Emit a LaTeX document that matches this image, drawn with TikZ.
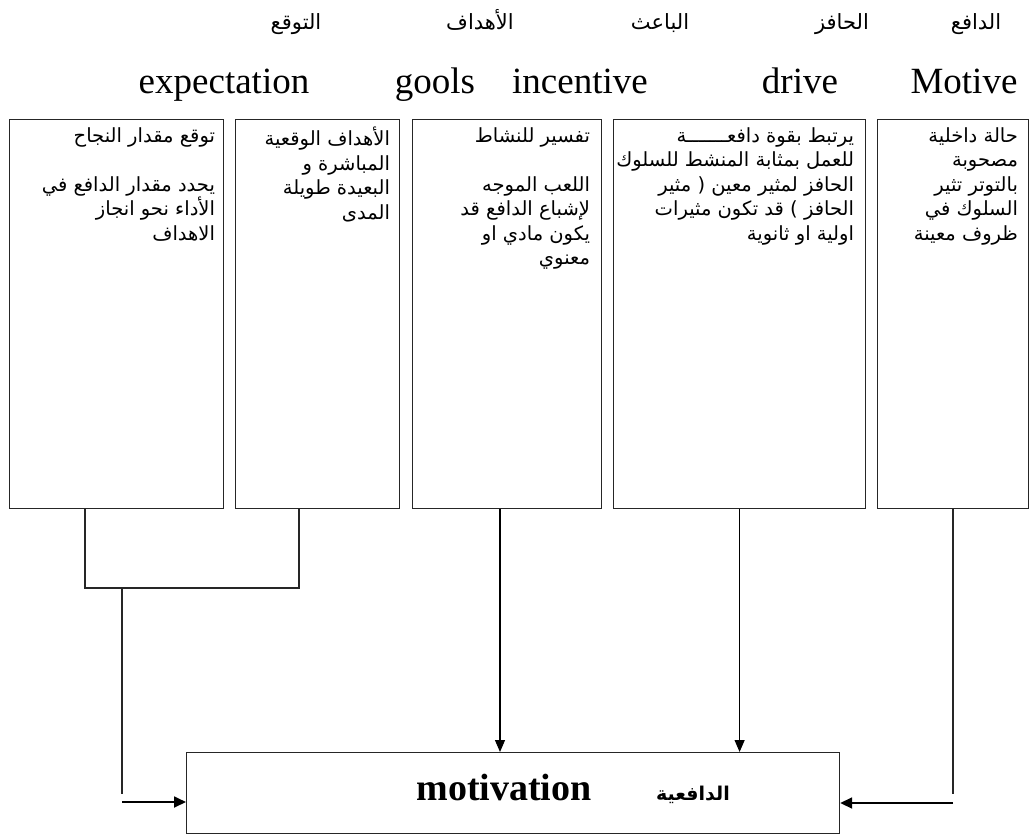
\documentclass[tikz,border=0pt]{standalone}
\usepackage{fontspec}
\setmainfont{Liberation Serif}
\newfontfamily\arabicfont[Script=Arabic]{DejaVu Sans}
\TeXXeTstate=1
\usetikzlibrary{arrows.meta}
\newcommand{\arl}[1]{\beginR #1\endR}
\begin{document}
\begin{tikzpicture}[x=1pt,y=-1pt,
  box/.style={draw, line width=1.2pt, draw=black!85, anchor=north west, inner sep=0pt},
  boxtxt/.style={anchor=north east, inner sep=0pt, align=right, font=\arabicfont\fontsize{19.5}{24.5}\selectfont},
  ehead/.style={anchor=base, font=\fontsize{37}{40}\selectfont},
  ahead/.style={anchor=base, font=\arabicfont\fontsize{21}{24}\selectfont},
  conn/.style={line width=1.2pt, draw=black!85},
  arr/.style={line width=1.2pt, -{Triangle[length=12pt,width=10pt]}},
  harr/.style={line width=1.8pt, -{Triangle[length=12pt,width=11pt]}}
]
\useasboundingbox (0,0) rectangle (1031,833);

% Arabic header
\node[ahead] (h1) at (296,29) {\arl{التوقع}};
\node[ahead] (h2) at (480,29) {\arl{الأهداف}};
\node[ahead] (h3) at (660,29) {\arl{الباعث}};
\node[ahead] (h4) at (842,29) {\arl{الحافز}};
\node[ahead] (h5) at (976,29) {\arl{الدافع}};

% English header
\node[ehead] (e1) at (224,93) {expectation};
\node[ehead] (e2) at (435,93) {gools};
\node[ehead] (e3) at (580,93) {incentive};
\node[ehead] (e4) at (800,93) {drive};
\node[ehead] (e5) at (964,93) {Motive};

% boxes
\node[box, minimum width=214pt, minimum height=389pt] (b1) at (9,119) {};
\node[box, minimum width=164pt, minimum height=389pt] (b2) at (235,119) {};
\node[box, minimum width=189pt, minimum height=389pt] (b3) at (412,119) {};
\node[box, minimum width=252pt, minimum height=389pt] (b4) at (613,119) {};
\node[box, minimum width=151pt, minimum height=389pt] (b5) at (877,119) {};

\node[boxtxt] (t1) at ([xshift=-9pt,yshift=-8pt]b1.north east) {\arl{توقع مقدار النجاح}\\ \mbox{}\\ \arl{يحدد مقدار الدافع في}\\ \arl{الأداء نحو انجاز}\\ \arl{الاهداف}};
\node[boxtxt] (t2) at ([xshift=-10pt,yshift=-8pt]b2.north east) {\arl{الأهداف الوقعية}\\ \arl{المباشرة و}\\ \arl{البعيدة طويلة}\\ \arl{المدى}};
\node[boxtxt] (t3) at ([xshift=-12pt,yshift=-8pt]b3.north east) {\arl{تفسير للنشاط}\\ \mbox{}\\ \arl{اللعب الموجه}\\ \arl{لإشباع الدافع قد}\\ \arl{يكون مادي او}\\ \arl{معنوي}};
\node[boxtxt] (t4) at ([xshift=-12pt,yshift=-8pt]b4.north east) {\arl{يرتبط بقوة دافعـــــــة}\\ \arl{للعمل بمثابة المنشط للسلوك}\\ \arl{الحافز لمثير معين ( مثير}\\ \arl{الحافز ) قد تكون مثيرات}\\ \arl{اولية او ثانوية}};
\node[boxtxt] (t5) at ([xshift=-11pt,yshift=-8pt]b5.north east) {\arl{حالة داخلية}\\ \arl{مصحوبة}\\ \arl{بالتوتر تثير}\\ \arl{السلوك في}\\ \arl{ظروف معينة}};

% main box
\node[box, minimum width=653pt, minimum height=81pt] (m) at (186,752) {};
\node[anchor=base, font=\bfseries\fontsize{38}{40}\selectfont] (mt1) at (504,800) {motivation};
\node[anchor=base, font=\arabicfont\bfseries\fontsize{19}{22}\selectfont] (mt2) at (693,800) {\arl{الدافعية}};

% connectors
\coordinate (c1) at (85,588);
\coordinate (c2) at (299,588);
\coordinate (c3) at (122,588);
\coordinate (c4) at (122,794);
\coordinate (c5) at (122,802);
\coordinate (x3) at (500,752);
\coordinate (c6) at (953,794);
\coordinate (c7) at (953,803);

\draw[conn] (b1.south -| c1) -- (c1) -- (c2) -- (b2.south -| c2);
\draw[conn] (c3) -- (c4);
\draw[harr] (c5) -- (c5 -| m.west);
\draw[arr] (b3.south -| x3) -- (x3);
\draw[arr] (b4.south) -- (b4.south |- m.north);
\draw[conn] (b5.south -| c6) -- (c6);
\draw[harr] (c7) -- (c7 -| m.east);
\end{tikzpicture}
\end{document}
